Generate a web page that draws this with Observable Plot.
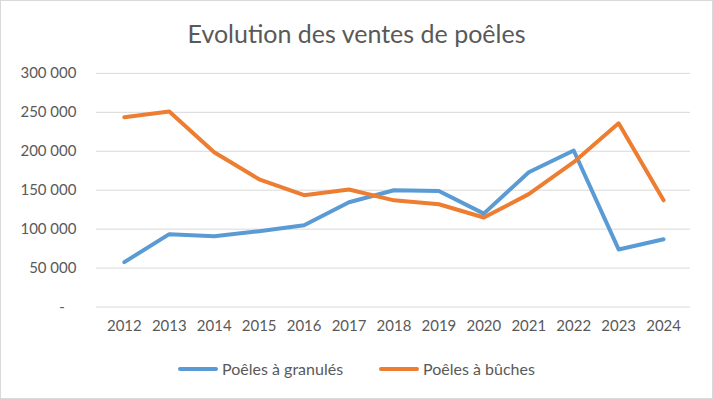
<!DOCTYPE html>
<html>
<head>
<meta charset="utf-8">
<script src="https://cdn.jsdelivr.net/npm/d3@7"></script>
<script src="https://cdn.jsdelivr.net/npm/@observablehq/plot@0.6"></script>
<style>
  body { margin: 0; background: #fff; }
  #wrap { position: relative; width: 713px; height: 399px; box-sizing: border-box; border: 1px solid #d9d9d9; font-family: Lato, "Open Sans", sans-serif; background: #fff; overflow: hidden; }
  #title { position: absolute; left: 0; right: 0; top: 17px; text-align: center; font-size: 25px; color: #595959; }
  #chart { position: absolute; left: -1px; top: -1px; }
  #legend { position: absolute; top: 358px; left: 0; right: 0; display: flex; justify-content: center; gap: 36px; font-size: 16px; color: #595959; }
  .item { display: flex; align-items: center; }
  .sw { width: 40px; height: 4px; border-radius: 2px; margin-right: 4px; }
</style>
</head>
<body>
<div id="wrap">
  <div id="title">Evolution des ventes de poêles</div>
  <div id="chart"></div>
  <div id="legend"></div>
</div>
<script>
const years = ["2012","2013","2014","2015","2016","2017","2018","2019","2020","2021","2022","2023","2024"];
const seriesNames = ["Poêles à granulés", "Poêles à bûches"];
const granules = [57700, 93600, 91000, 97400, 105000, 134600, 150000, 149000, 120000, 173000, 201000, 74000, 87000];
const buches = [243600, 251000, 198700, 164000, 143600, 151000, 137000, 132000, 115000, 145000, 186000, 236000, 137000];
const colors = ["#5B9BD5", "#ED7D31"];
const yTicks = [0, 50000, 100000, 150000, 200000, 250000, 300000];

const data = [];
years.forEach((y, i) => {
  data.push({year: y, value: granules[i], series: seriesNames[0]});
  data.push({year: y, value: buches[i], series: seriesNames[1]});
});

const fr = d3.formatLocale({decimal: ",", thousands: "\u00A0", grouping: [3], currency: ["", "€"]});
const fmt = fr.format(",");

const chart = Plot.plot({
  width: 713,
  height: 399,
  marginTop: 73,
  marginBottom: 92,
  marginLeft: 96,
  marginRight: 22,
  style: {fontFamily: "Lato, 'Open Sans', sans-serif", fontSize: "15px", color: "#595959", background: "transparent"},
  x: {type: "point", domain: years, padding: 0.5, label: null},
  y: {domain: [0, 300000], label: null},
  color: {domain: seriesNames, range: colors},
  marks: [
    Plot.gridY(yTicks, {stroke: "#d9d9d9", strokeOpacity: 1, strokeWidth: 1}),
    Plot.axisY(yTicks, {tickSize: 0, tickPadding: 20, fill: "#595959", fontSize: 15, tickFormat: d => d === 0 ? "-\u00A0\u00A0\u00A0" : fmt(d), label: null}),
    Plot.axisX({tickSize: 0, tickPadding: 13, fill: "#595959", fontSize: 15, label: null}),
    Plot.line(data, {x: "year", y: "value", z: "series", stroke: "series", strokeWidth: 4, strokeLinejoin: "round", strokeLinecap: "round"})
  ]
});
document.getElementById("chart").appendChild(chart);

const legend = document.getElementById("legend");
seriesNames.forEach((n, i) => {
  const it = document.createElement("div");
  it.className = "item";
  const sw = document.createElement("div");
  sw.className = "sw";
  sw.style.background = colors[i];
  const t = document.createElement("span");
  t.textContent = n;
  it.appendChild(sw); it.appendChild(t);
  legend.appendChild(it);
});
</script>
</body>
</html>
